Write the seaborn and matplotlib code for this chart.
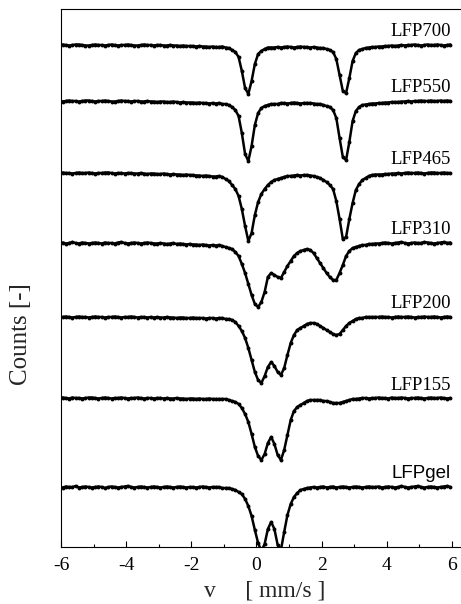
import numpy as np
import pandas as pd
import matplotlib
matplotlib.use("Agg")
import matplotlib.pyplot as plt
import seaborn as sns

# Doppler velocity of each channel (mm/s): 121 channels, 0.1 mm/s apart
velocity = np.round(np.linspace(-6.05, 5.95, 121), 2)

# Transmitted counts, normalised to 1000 off resonance (one value per channel)
lfp700 = [
    1000.0, 1000.5, 1000.0, 999.5, 1000.0, 1000.5, 1000.5, 1000.0, 999.5, 999.5,
    1000.0, 1000.5, 1000.0, 1000.0, 999.5, 1000.0, 1000.5, 1000.0, 999.5, 1000.0,
    1000.0, 1000.5, 1000.0, 999.5, 999.5, 1000.0, 1000.5, 1000.0, 1000.0, 999.5,
    1000.0, 1000.0, 999.5, 999.5, 1000.0, 999.5, 999.5, 999.0, 999.5, 999.0,
    999.0, 999.0, 998.5, 999.0, 998.5, 998.5, 998.0, 998.5, 998.0,
    998, 998.5, 997.5, 997, 995, 993, 988, 974, 957, 951, 964, 981,
    991, 994, 996, 997.5, 997.5, 997.5, 998, 997.5, 998, 998.5, 998, 997.5,
    998, 998.5, 998, 998, 997.5, 998, 997.5, 997, 997, 996, 995, 993,
    986, 970, 954, 952, 967, 984, 992, 995, 996, 997, 997.5, 998,
    998.0, 998.5, 998.5, 999.0, 999.0, 999.5, 999.0, 999.5, 1000.0, 999.5, 1000.0, 1000.0,
    1000.5, 1000.0, 999.5, 1000.0, 1000.5, 1000.0, 1000.0, 1000.5, 1000.0, 999.5, 1000.0, 1000.5,
]
lfp550 = [
    1000.0, 999.5, 1000.0, 1000.5, 1000.0, 1000.0, 999.5, 1000.0, 1000.5, 1000.5,
    1000.0, 999.5, 1000.0, 1000.0, 1000.5, 1000.0, 999.5, 999.5, 1000.0, 1000.5,
    1000.0, 1000.0, 999.5, 1000.0, 1000.0, 999.5, 999.5, 1000.0, 999.5, 999.5,
    999.0, 999.5, 999.5, 999.0, 999.0, 999.5, 999.0, 998.5, 999.0, 998.5,
    998.5, 998.5, 998.0, 998.5, 998.0, 998.0, 997.5, 998.0, 997.5,
    998, 997, 997, 996, 994, 991, 985, 968, 947, 940, 955, 976,
    988, 993, 995, 996, 997, 997, 997, 998, 998, 997.5, 998, 998.5,
    998, 997.5, 998, 998, 998, 997.5, 997, 997, 996, 995, 994, 991,
    983, 963, 944, 941, 959, 980, 990, 994, 996, 996.5, 997, 997.5,
    997.5, 998.0, 998.0, 998.5, 998.5, 999.0, 999.0, 999.0, 999.5, 999.5, 1000.0, 999.5,
    1000.0, 1000.0, 1000.5, 1000.0, 1000.0, 1000.5, 1000.0, 1000.0, 1000.5, 1000.0, 1000.5, 1000.0,
]
lfp465 = [
    1000.0, 1000.5, 1000.0, 1000.0, 999.5, 1000.0, 1000.5, 1000.0, 1000.0, 1000.5,
    1000.0, 999.5, 1000.0, 1000.0, 1000.5, 1000.5, 1000.0, 999.5, 1000.0, 1000.0,
    999.5, 1000.0, 1000.0, 999.5, 999.5, 1000.0, 999.5, 999.0, 999.5, 999.5,
    999.0, 999.0, 999.5, 999.0, 998.5, 999.0, 998.5, 998.5, 998.0, 998.5,
    998.0, 998.0, 997.5, 997.5, 997.0, 997.5, 997.0, 996.5, 996.5,
    997, 996, 994, 992, 988, 984, 977, 964, 947, 932, 940, 958,
    971, 979, 984, 988, 991, 993, 994, 995, 996, 997, 997, 997.5,
    998, 997.5, 998, 998, 997.5, 997, 996, 995, 993, 991, 988, 984,
    972, 954, 934, 936, 954, 970, 983, 989, 993, 995, 997, 998,
    998.5, 998.5, 998.5, 999.0, 999.0, 999.5, 999.5, 1000.0, 999.5, 1000.0, 1000.5, 1000.0,
    1000.0, 1000.5, 1000.0, 999.5, 1000.0, 1000.5, 1000.5, 1000.0, 1000.0, 1000.5, 1000.0, 1000.0,
]
lfp310 = [
    1000.0, 1000.5, 999.5, 1000.0, 1001.0, 1000.0, 999.5, 1000.5, 1000.0, 999.5,
    1000.0, 1000.5, 1000.0, 999.5, 1000.5, 1000.0, 1000.0, 999.5, 1000.5, 1001.0,
    1000.0, 999.5, 1000.0, 1000.5, 1000.0, 999.5, 1000.0, 1000.5, 1000.0, 999.5,
    999.5, 1000.0, 999.5, 999.0, 999.5, 1000.0, 999.0, 999.5, 999.0, 998.5,
    999.0, 998.5, 998.5, 998.0, 998.5, 998.0, 997.5, 998.0, 997.5,
    998, 997, 996, 995, 994, 991, 987, 979, 970, 959, 948, 939,
    936, 941, 951, 966, 970, 968, 966, 965, 971, 977, 982, 987,
    990, 992, 993, 994, 993, 990, 985, 980, 975, 970, 966, 963,
    963, 970, 978, 987, 992, 995, 996, 997, 998, 998, 999, 999,
    999.5, 999.5, 1000.0, 1000.5, 1000.0, 999.5, 1000.0, 1000.5, 1001.0, 1000.0, 999.5, 1000.0,
    1000.5, 1000.0, 1000.0, 1001.0, 1000.5, 1000.0, 999.5, 1000.0, 1000.5, 1001.0, 1000.0, 1000.5,
]
lfp200 = [
    1000.0, 1000.0, 1000.5, 1000.0, 999.5, 1000.0, 1000.5, 1000.0, 1000.0, 999.5,
    1000.0, 1000.5, 1000.0, 1000.0, 999.5, 1000.0, 1000.0, 1000.5, 1000.0, 999.5,
    1000.0, 1000.0, 1000.5, 1000.0, 999.5, 1000.0, 1000.0, 999.5, 1000.0, 999.5,
    1000.0, 999.5, 999.5, 1000.0, 999.5, 999.5, 999.0, 999.5, 999.5, 999.0,
    999.0, 999.5, 999.0, 999.0, 999.0, 998.5, 999.0, 999.0, 998.5,
    999, 999, 998, 998, 997, 995, 991, 986, 979, 969, 957, 945,
    937, 934, 941, 950, 955, 951, 945, 942, 949, 962, 974, 982,
    987, 989, 991, 993, 994, 994, 993, 991, 989, 987, 985, 983,
    982, 983, 987, 991, 994, 996, 998, 999, 999, 1000, 1000, 1000,
    1000.0, 1000.0, 1000.5, 1000.0, 1000.0, 999.5, 1000.0, 1000.5, 1000.0, 1000.0, 1000.5, 1000.0,
    999.5, 1000.0, 1000.0, 1000.5, 1000.0, 1000.0, 1000.5, 1000.0, 999.5, 1000.0, 1000.5, 1000.0,
]
lfp155 = [
    1000.0, 1000.5, 1000.0, 999.5, 1000.5, 1000.0, 1000.0, 999.5, 1000.0, 1000.5,
    1000.5, 1000.0, 999.5, 1000.0, 1000.5, 1000.0, 999.5, 1000.0, 1000.0, 1000.5,
    1000.0, 999.5, 1000.0, 1000.0, 1000.5, 1000.0, 999.5, 1000.0, 1000.0, 999.5,
    1000.0, 1000.0, 999.5, 1000.0, 999.5, 999.5, 1000.0, 999.5, 999.5, 999.0,
    999.5, 999.5, 999.0, 999.5, 999.0, 999.0, 999.5, 999.0, 999.0,
    999, 999, 999, 998, 997, 996, 994, 990, 984, 976, 964, 951,
    942, 938, 944, 955, 961, 954, 943, 938, 948, 963, 978, 987,
    991, 993, 995, 997, 998, 998, 998, 998, 997, 997, 996, 995,
    995, 995, 996, 997, 998, 999, 999, 999.5, 1000, 1000, 999.5, 1000,
    1000.0, 1000.5, 1000.0, 1000.0, 999.5, 1000.5, 1000.0, 1000.0, 1000.5, 1000.0, 999.5, 1000.0,
    1000.0, 1000.5, 1000.0, 999.5, 1000.0, 1000.5, 1000.0, 1000.0, 1000.5, 1000.0, 999.5, 1000.0,
]
lfpgel = [
    1000.0, 999.5, 1000.5, 1000.0, 1000.0, 1001.0, 999.5, 1000.0, 1000.5, 1000.0,
    999.5, 1000.0, 1000.5, 1000.0, 999.0, 1000.0, 1000.5, 1000.0, 999.5, 1000.0,
    1000.5, 1001.0, 1000.0, 999.5, 1000.0, 1000.5, 1000.0, 999.5, 1000.0, 1000.5,
    1000.0, 999.5, 1000.0, 1000.5, 1000.0, 999.5, 1000.0, 1000.5, 1000.0, 999.5,
    1000.0, 1000.0, 999.5, 1000.0, 1000.5, 1000.0, 999.5, 1000.0, 1000.0,
    1000, 999, 999, 999, 998, 997, 995, 993, 988, 981, 971, 957,
    944, 936, 943, 958, 965, 958, 942, 937, 955, 972, 983, 990,
    994, 997, 998, 999, 999.5, 1000, 999.5, 1000, 1000.5, 999.5, 1000, 1000.5,
    999.5, 1000, 1000.5, 1000, 999.5, 1000, 1000.5, 1000, 999.5, 1000, 1000.5, 1000,
    1000.0, 1000.5, 999.5, 1000.0, 1000.5, 1000.0, 999.5, 1000.0, 1001.0, 1000.0, 999.5, 1000.0,
    1000.5, 1001.0, 1000.0, 999.5, 1000.0, 1000.5, 1000.0, 999.5, 1000.0, 1000.5, 1001.0, 1000.0,
]

samples = ["LFP700", "LFP550", "LFP465", "LFP310", "LFP200", "LFP155", "LFPgel"]
spectra = [lfp700, lfp550, lfp465, lfp310, lfp200, lfp155, lfpgel]
# vertical stacking offset of each spectrum (same units as counts)
stack_offset = [502, 446, 374, 304, 230, 149, 60]
reference_level = 1000

rows = []
for name, counts, off in zip(samples, spectra, stack_offset):
    for v, c in zip(velocity, counts):
        rows.append({"sample": name, "v": v, "y": off + (c - reference_level)})
df = pd.DataFrame(rows)

sns.set_style("white")
plt.rcParams["font.family"] = ["Liberation Serif", "DejaVu Serif"]
plt.rcParams["axes.unicode_minus"] = False

fig = plt.figure(figsize=(4.61, 6.04), dpi=100)
ax = fig.add_axes([61 / 461, 57 / 604, 400 / 461, 538 / 604])

for name in samples:
    sub = df[df["sample"] == name]
    sns.lineplot(data=sub, x="v", y="y", ax=ax, color="black", lw=1.8,
                 marker="o", markersize=2.8, markeredgewidth=0,
                 estimator=None, sort=False, legend=False)

for name, off in zip(samples, stack_offset):
    fam = ["Liberation Sans", "DejaVu Sans"] if name == "LFPgel" else ["Liberation Serif", "DejaVu Serif"]
    ax.text(5.97, off + 8.5, name, ha="right", va="baseline",
            fontsize=13.5, family=fam, color="black")

ax.set_xlim(-6, 6.277)
ax.set_ylim(0, 538)
ax.set_xticks([-6, -4, -2, 0, 2, 4, 6])
ax.set_xticks([-5, -3, -1, 1, 3, 5], minor=True)
ax.set_xticklabels(["-6", "-4", "-2", "0", "2", "4", "6"])
ax.set_yticks([])
ax.tick_params(axis="x", which="major", direction="in", length=4.5, width=0.8,
               pad=7, labelsize=14, colors="black")
ax.tick_params(axis="x", which="minor", direction="in", length=2.2, width=0.8,
               colors="black")
ax.tick_params(axis="x", which="both", bottom=True, top=False)

for side in ["left", "bottom", "top"]:
    ax.spines[side].set_visible(True)
    ax.spines[side].set_color("black")
    ax.spines[side].set_linewidth(0.8)
ax.spines["right"].set_visible(False)

ax.set_xlabel("v     [ mm/s ]", fontsize=17)
ax.xaxis.set_label_coords(0.51, -0.062)
ax.set_ylabel("Counts [-]", fontsize=18)
ax.yaxis.set_label_coords(-0.072, 0.396)

fig.savefig("out.png", dpi=100)
